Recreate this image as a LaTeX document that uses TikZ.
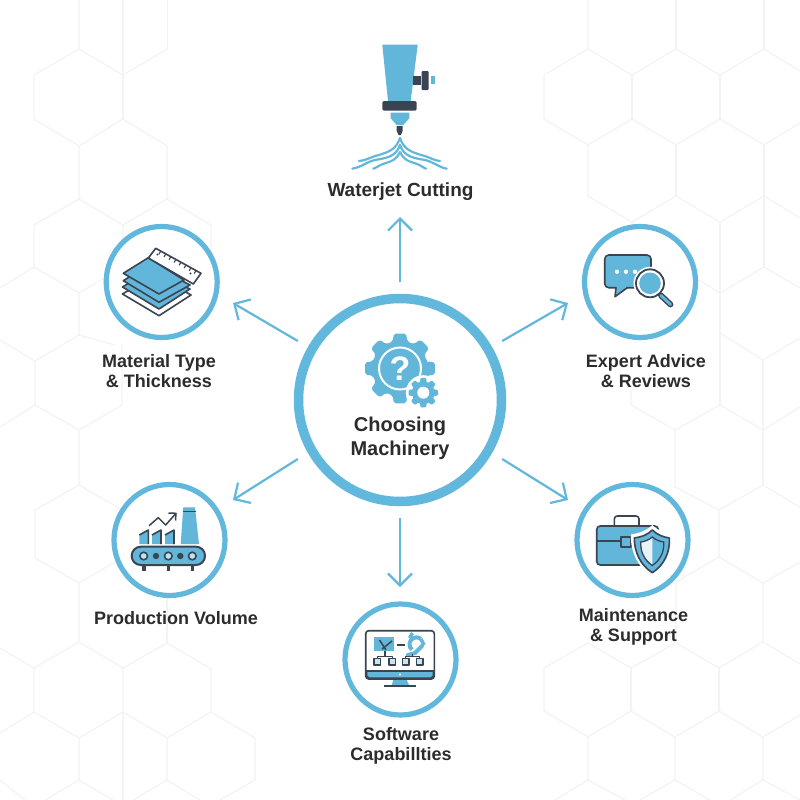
\documentclass[tikz,border=0pt]{standalone}
\usepackage{fontspec}
\setmainfont{Liberation Sans}
\usetikzlibrary{arrows.meta,calc}
\definecolor{ringblue}{HTML}{62B8DC}
\definecolor{iconblue}{HTML}{62B6DA}
\definecolor{icondark}{HTML}{3B4452}
\definecolor{labeltext}{HTML}{2C2C2E}
\definecolor{hexgrey}{HTML}{F3F3F4}
\tikzset{
  hexline/.style={draw=hexgrey,line width=1.2pt,line join=round},
  bigring/.style={circle,draw=ringblue,fill=white,line width=9.5pt,minimum size=203pt,inner sep=0pt,outer sep=0pt},
  smallring/.style={circle,draw=ringblue,fill=white,line width=5.2pt,minimum size=111pt,inner sep=0pt,outer sep=0pt},
  hubzone/.style={circle,minimum size=236pt,inner sep=0pt,outer sep=0pt},
  label/.style={text=labeltext,align=center,inner sep=0pt,font=\fontsize{18}{20.6}\selectfont\bfseries},
  biglabel/.style={text=labeltext,align=center,inner sep=0pt,font=\fontsize{20}{24}\selectfont\bfseries},
  spoke/.style={draw=ringblue,line width=2.2pt,-{Straight Barb[length=12pt,width=24pt,line width=2.2pt]}},
  dk/.style={draw=icondark,line width=1.6pt,line join=round},
  dkfill/.style={dk,fill=iconblue},
  jet/.style={draw=ringblue,line width=2.2pt,line cap=round},
}
\begin{document}
\begin{tikzpicture}[x=1pt,y=-1pt]
\useasboundingbox (0,0) rectangle (800,800);
\fill[white] (0,0) rectangle (800,800);
% background honeycomb, left
\draw[hexline] (79,0)--(79,49)--(123,75)--(167.5,49)--(167.5,0);
\draw[hexline] (123,0)--(123,119);
\draw[hexline] (79,49)--(34,75)--(34,119)--(79,146)--(123,119)--(167,146)--(167,199)--(123,225)--(79,199)--(79,146);
\draw[hexline] (79,199)--(34,225)--(34,267)--(79,293)--(123,267)--(123,225);
\draw[hexline] (167,199)--(211,225)--(211,267);
\draw[hexline] (34,267)--(0,288);
\draw[hexline] (79,293)--(79,335)--(35,361)--(35,405)--(79,430)--(122,405)--(122,345);
\draw[hexline] (0,340)--(35,361);
\draw[hexline] (35,405)--(0,427);
\draw[hexline] (79,335)--(115,345);
\draw[hexline] (79,430)--(79,485)--(35,510)--(35,558)--(79,583)--(122,558);
\draw[hexline] (79,485)--(122,510);
\draw[hexline] (79,583)--(79,642)--(34,668)--(34,712)--(79,738)--(123,712)--(123,668)--(79,642);
\draw[hexline] (123,668)--(167,643)--(211,669)--(211,712)--(167,738)--(123,712);
\draw[hexline] (167,643)--(167,590);
\draw[hexline] (123,712)--(123,800);
\draw[hexline] (0,648)--(34,668);
\draw[hexline] (34,712)--(0,733);
\draw[hexline] (211,712)--(255,738)--(255,780)--(220,800);
\draw[hexline] (167,738)--(167,780)--(200,800);
\draw[hexline] (167,780)--(133,800);
\draw[hexline] (79,738)--(79,780)--(45,800);
\draw[hexline] (79,780)--(113,800);
\draw[hexline] (0,780)--(25,800);
% background honeycomb, right
\draw[hexline] (588,0)--(588,49)--(632,75)--(676,49)--(720,75)--(764,49)--(800,71);
\draw[hexline] (676,0)--(676,49);
\draw[hexline] (764,0)--(764,49);
\draw[hexline] (588,49)--(544,75)--(544,119)--(588,145)--(632,119)--(676,145)--(720,119)--(764,145)--(800,123);
\draw[hexline] (632,75)--(632,119);
\draw[hexline] (720,75)--(720,119);
\draw[hexline] (588,145)--(588,196)--(632,222)--(676,196)--(720,222)--(764,196)--(800,218);
\draw[hexline] (676,145)--(676,196);
\draw[hexline] (764,145)--(764,267);
\draw[hexline] (632,222)--(632,240);
\draw[hexline] (720,222)--(720,405);
\draw[hexline] (690,275)--(720,293)--(764,267)--(800,288);
\draw[hexline] (720,333)--(763,360)--(800,338);
\draw[hexline] (763,360)--(763,485);
\draw[hexline] (631,390)--(631,405)--(675,430)--(720,405)--(763,430)--(800,407);
\draw[hexline] (675,430)--(675,487)--(719,510)--(763,485)--(800,507);
\draw[hexline] (719,510)--(719,557)--(763,583)--(800,562);
\draw[hexline] (719,557)--(676,582)--(676,643);
\draw[hexline] (763,583)--(763,642)--(719,668)--(676,643)--(631,668)--(588,643)--(544,668)--(544,711)--(588,737)--(631,711)--(675,737)--(719,711)--(763,737)--(800,715);
\draw[hexline] (631,668)--(631,711);
\draw[hexline] (719,668)--(719,711);
\draw[hexline] (763,642)--(800,664);
\draw[hexline] (588,737)--(588,780)--(625,800);
\draw[hexline] (588,780)--(555,800);
\draw[hexline] (675,737)--(675,780)--(640,800);
\draw[hexline] (675,780)--(710,800);
\draw[hexline] (763,737)--(763,780)--(730,800);
\draw[hexline] (763,780)--(800,800);
% rings
\node[hubzone] (hub) at (400,400) {};
\node[bigring] (center) at (400,400) {};
\node[smallring] (material) at (161.7,282) {};
\node[smallring] (expert) at (640,282) {};
\node[smallring] (production) at (169.5,540) {};
\node[smallring] (maintenance) at (632.5,540) {};
\node[smallring] (software) at (400.5,659.5) {};
% labels
\node[label,font=\fontsize{19}{21}\selectfont\bfseries] (waterjetlabel) at (400.5,192) {Waterjet Cutting};
\node[label] (materiallabel) at (159,371) {Material Type\\\& Thickness};
\node[label] (expertlabel) at (646,371) {Expert Advice\\\& Reviews};
\node[label] (productionlabel) at (176,618) {Production Volume};
\node[label] (maintenancelabel) at (633.5,627) {Maintenance\\\& Support};
\node[label] (softwarelabel) at (401,746) {Software\\Capabillties};
\node[biglabel] (centerlabel) at (400,438.5) {Choosing\\Machinery};
% spokes
\coordinate (tipw) at (400,217);
\coordinate (tipm) at (233,303);
\coordinate (tipe) at (568,303);
\coordinate (tipp) at (233,500);
\coordinate (tipt) at (568,500);
\coordinate (tips) at (400,587);
\draw[spoke] (hub.90) -- (tipw);
\draw[spoke] (hub.150) -- (tipm);
\draw[spoke] (hub.30) -- (tipe);
\draw[spoke] (hub.210) -- (tipp);
\draw[spoke] (hub.330) -- (tipt);
\draw[spoke] (hub.270) -- (tips);
% centre gears
\begin{scope}[shift={(400,368.5)}]
\fill[iconblue,rounded corners=2pt] (-14:28) \foreach \a in {0,45,...,315}{ -- (\a-15:28) -- (\a-10:35.5) -- (\a+10:35.5) -- (\a+15:28)} -- cycle;
\draw[white,line width=2pt] (0,0) circle[radius=21];
\node[text=white,font=\fontsize{34}{34}\selectfont\bfseries,inner sep=0pt] (question) at (0,0) {?};
\end{scope}
\begin{scope}[shift={(423.3,392.7)}]
\fill[white] (0,0) circle[radius=17.5];
\fill[iconblue,rounded corners=1pt] (-17:11) \foreach \a in {0,45,...,315}{ -- (\a-17:11) -- (\a-11:15) -- (\a+11:15) -- (\a+17:11)} -- cycle;
\fill[white] (0,0) circle[radius=6];
\end{scope}
% waterjet icon
\fill[iconblue] (382.3,44.7)--(417.7,44.7)--(410.7,101)--(388,101)--cycle;
\fill[icondark,rounded corners=1.5pt] (382.3,101) rectangle (416.7,110.7);
\fill[iconblue] (390.7,112.7)--(409.3,112.7)--(409.3,118.3)--(403.3,125)--(396.7,125)--(390.7,118.3)--cycle;
\fill[icondark] (396.7,126)--(402.7,126)--(402.7,131)--(400.8,135)--(398.6,135)--(396.7,131)--cycle;
\fill[icondark] (413,75.7) rectangle (421,85.3);
\fill[icondark,rounded corners=1pt] (421.7,71) rectangle (428.7,90);
\fill[iconblue] (431,76) rectangle (435.3,84.3);
\draw[jet] (400,138) .. controls (396,150) and (388,152) .. (379,155) .. controls (370,157) and (368,160) .. (359,161);
\draw[jet] (400,145) .. controls (396,157) and (386,158) .. (375,160) .. controls (366,162) and (362,167) .. (352.3,168.7);
\draw[jet] (400,152) .. controls (396,160) and (392,161) .. (386,163) .. controls (381,164) and (378,167) .. (373.3,168.7);
\draw[jet] (400,138) .. controls (404,150) and (412,152) .. (421,155) .. controls (430,157) and (432,160) .. (440,161);
\draw[jet] (400,145) .. controls (404,157) and (414,158) .. (425,160) .. controls (434,162) and (438,167) .. (446.7,168.7);
\draw[jet] (400,152) .. controls (404,160) and (408,161) .. (414,163) .. controls (419,164) and (422,167) .. (426,168.7);
% material icon
\draw[dk,fill=white] (122.5,294)--(155,275)--(191,295)--(159,315.7)--cycle;
\draw[dkfill] (122.5,287)--(150,270)--(190,289)--(159,309)--cycle;
\draw[dkfill] (123.3,280.7)--(150,264)--(190,285)--(159,302.3)--cycle;
\draw[dkfill] (123.3,273.3)--(148.3,257.7)--(184,280)--(159,294)--cycle;
\draw[dk,fill=white] (155.7,248.3)--(201,273.3)--(193.3,284)--(148.3,258)--cycle;
\foreach \t in {1,...,8}{
  \draw[icondark,line width=1.1pt] ($(155.7,248.3)!\t/9!(201,273.3)$) -- ++(-1.7,3.1);
}
\fill[icondark] (157.5,254.5) circle[radius=1.2];
\fill[icondark] (190.5,273.5) circle[radius=1.2];
% expert icon
\draw[dkfill,rounded corners=4pt] (604.7,255) rectangle (651,287.7);
\draw[dkfill] (616,287.7)--(615,296.7)--(627.3,287.7);
\fill[iconblue] (616.5,285)--(616.5,287.9)--(626,287.9)--(626,285)--cycle;
\fill[white] (617,271.7) circle[radius=2.2];
\fill[white] (626,271.7) circle[radius=2.2];
\fill[white] (635,271.7) circle[radius=2.2];
\fill[white] (650,283.3) circle[radius=16.5];
\draw[icondark,line width=5.8pt,line cap=round] (661,295.5)--(670.5,304.5);
\draw[iconblue,line width=3pt,line cap=round] (661,295.5)--(670.5,304.5);
\draw[icondark,line width=1.8pt,fill=white] (650,283.3) circle[radius=14];
\fill[iconblue] (650,283.3) circle[radius=10.8];
% production icon
\fill[iconblue] (183.3,507.3)--(195,507.3)--(199,544)--(180.7,544)--cycle;
\draw[icondark,line width=1.3pt] (183,511.7)--(195.5,511.7);
\foreach \bx in {139.3,152,165}{
  \fill[iconblue] (\bx,535)--(\bx+9,530)--(\bx+9,544)--(\bx,544)--cycle;
  \draw[dk] (\bx,535)--(\bx+9,530)--(\bx+9,544);
}
\draw[dk,line width=1.5pt] (149,525.7)--(158.3,517.7)--(165.7,525)--(176,513.3);
\draw[dk,line width=1.5pt] (168.5,513)--(176,513.3)--(175.5,520.5);
\foreach \lx in {143.7,168.3,192.3}{
  \fill[icondark] (\lx-1.8,565) rectangle (\lx+1.8,571);
}
\draw[dkfill,line width=2pt,rounded corners=9pt] (131.7,546.7) rectangle (205,565);
\foreach \rx in {143.7,168.3,192.3}{
  \draw[icondark,line width=1.6pt,fill=iconblue!40] (\rx,556) circle[radius=3.8];
}
\foreach \rx in {156,180.3}{
  \fill[icondark] (\rx,556) circle[radius=3.2];
}
% maintenance icon
\draw[dk,fill=white,rounded corners=3pt] (614.3,526)--(614.3,516)--(639,516)--(639,526);
\draw[dkfill,rounded corners=3.5pt] (596.7,526) rectangle (658.3,565);
\draw[dk] (596.7,541)--(658,541);
\draw[dkfill] (620.7,537) rectangle (630.7,547);
\begin{scope}[shift={(652.3,550)}]
\fill[white] (0,-25) .. controls (6,-19) and (13,-17) .. (21,-15.5) .. controls (22,2) and (14,18) .. (0,26.5) .. controls (-14,18) and (-22,2) .. (-21.5,-15.5) .. controls (-13,-17) and (-6,-19) .. (0,-25) -- cycle;
\draw[dkfill] (0,-20) .. controls (5,-15) and (11,-13) .. (17,-12) .. controls (18,2) and (12,15) .. (0,22.7) .. controls (-12,15) and (-18,2) .. (-18,-12) .. controls (-11,-13) and (-5,-15) .. (0,-20) -- cycle;
\fill[white!85!iconblue] (0,-13) .. controls (-3.5,-10) and (-7.5,-8.5) .. (-11.5,-8) .. controls (-12,2) and (-8,10) .. (0,15.5) -- cycle;
\draw[icondark,line width=1.3pt] (0,-13) .. controls (3.5,-10) and (7.5,-8.5) .. (11.5,-8) .. controls (12,2) and (8,10) .. (0,15.5) .. controls (-8,10) and (-12,2) .. (-11.5,-8) .. controls (-7.5,-8.5) and (-3.5,-10) .. (0,-13) -- cycle;
\end{scope}
% software icon
\draw[dk,fill=white,rounded corners=3pt] (365.7,630.7) rectangle (434.3,679);
\draw[dkfill] (366.5,671)--(433.5,671)--(433.5,676)--(431,678.2)--(369,678.2)--(366.5,676)--cycle;
\fill[white] (400,674.5) circle[radius=1.2];
\fill[iconblue] (393.3,680)--(406.7,680)--(409,685)--(391.7,685)--cycle;
\draw[icondark,line width=1.8pt] (384,685.7)--(416,685.7);
\fill[iconblue] (374.3,637.3) rectangle (394.3,650.7);
\draw[icondark,line width=1.5pt] (379.5,640)--(386,650);
\draw[icondark,line width=1.5pt] (392,641)--(382,649);
\draw[icondark,line width=1.2pt] (397.3,645)--(405,645);
\draw[iconblue,line width=4pt] (421,639) arc[start angle=-50,end angle=-230,radius=7];
\draw[iconblue,line width=4pt,line cap=round] (422,646)--(415,653)--(408,655);
\draw[iconblue,line width=3.4pt] (409.5,638)--(412.5,633);
\draw[iconblue,line width=3.4pt] (421,639)--(424,645);
\draw[dk,line width=1.3pt] (385,651)--(385,656.7);
\draw[dk,line width=1.3pt] (377.3,659)--(377.3,656.7)--(392.3,656.7)--(392.3,659);
\draw[dk,line width=1.3pt] (412.7,654)--(412.7,656.7);
\draw[dk,line width=1.3pt] (405.7,659)--(405.7,656.7)--(419.7,656.7)--(419.7,659);
\foreach \sx in {377.3,392.3,405.7,419.7}{
  \draw[dk,line width=1.3pt,fill=iconblue!35] (\sx-3.2,658.5) rectangle (\sx+3.2,665);
}
\end{tikzpicture}
\end{document}
